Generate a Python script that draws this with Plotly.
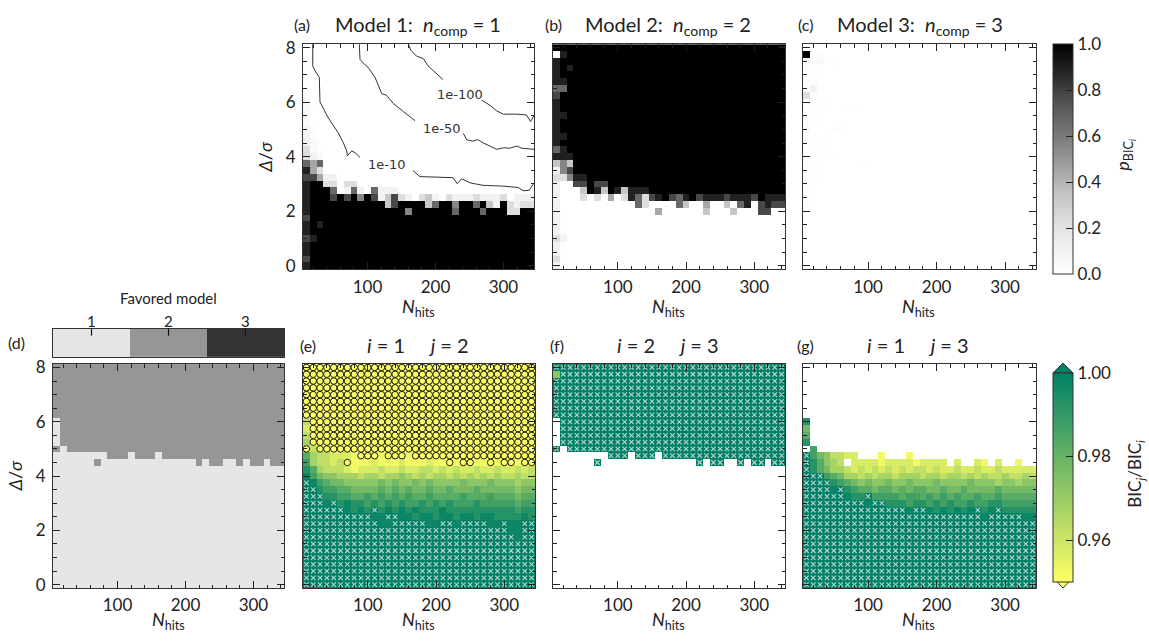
import plotly.graph_objects as go

W, H = 1149, 643

# ---------------------------------------------------------------- grid axes
N_HITS = [10, 20, 30, 40, 50, 60, 70, 80, 90, 100, 110, 120, 130, 140, 150, 160, 170,
          180, 190, 200, 210, 220, 230, 240, 250, 260, 270, 280, 290, 300, 310, 320, 330, 340]
DELTA_SIGMA = [0.0, 0.25, 0.5, 0.75, 1.0, 1.25, 1.5, 1.75, 2.0, 2.25, 2.5, 2.75, 3.0, 3.25,
               3.5, 3.75, 4.0, 4.25, 4.5, 4.75, 5.0, 5.25, 5.5, 5.75, 6.0, 6.25, 6.5, 6.75,
               7.0, 7.25, 7.5, 7.75, 8.0]
MODELS = [1, 2, 3]

# Rows run from Delta/sigma = 8 (top) down to 0; one character per N_hits column.
# p_BIC grids: '0'-'9' -> d/9, 'a'/'b'/'c' -> faint 0.02/0.05/0.08
P_MODEL1 = [
    "0000000000" "0000000000" "0000000000" "0000",
    "0000000000" "0000000000" "0000000000" "0000",
    "a000000000" "0000000000" "0000000000" "0000",
    "0000000000" "0000000000" "0000000000" "0000",
    "a000000000" "0000000000" "0000000000" "0000",
    "0000000000" "0000000000" "0000000000" "0000",
    "0000000000" "0000000000" "0000000000" "0000",
    "a000000000" "0000000000" "0000000000" "0000",
    "b000000000" "0000000000" "0000000000" "0000",
    "ba00000000" "0000000000" "0000000000" "0000",
    "b000000000" "0000000000" "0000000000" "0000",
    "a000000000" "0000000000" "0000000000" "0000",
    "ca00000000" "0000000000" "0000000000" "0000",
    "1a00000000" "0000000000" "0000000000" "0000",
    "1b00000000" "0000000000" "0000000000" "0000",
    "2ba0000000" "0000000000" "0000000000" "0000",
    "21b0000000" "0000000000" "0000000000" "0000",
    "6460000000" "0000000000" "0000000000" "0000",
    "8420000000" "0000000000" "0000000000" "0000",
    "7741100000" "0000000000" "0000000000" "0000",
    "8992202200" "0000000000" "0000000000" "0000",
    "8999601610" "6111000000" "0000000000" "0000",
    "8999797959" "7137210231" "0211121112" "0111",
    "8999999999" "9937999936" "9959969319" "2122",
    "8999999999" "9999959999" "9969996999" "2299",
    "7999999999" "9999999999" "9999999999" "9999",
    "8989999999" "9999999999" "9999999999" "9999",
    "8999999999" "9999999999" "9999999999" "9999",
    "7899999999" "9999999999" "9999999999" "9999",
    "8999999999" "9999999999" "9999999999" "9999",
    "8999999999" "9999999999" "9999999999" "9999",
    "7999999999" "9999999999" "9999999999" "9999",
    "8999999999" "9999999999" "9999999999" "9999",
]

P_MODEL2 = [
    "9999999999" "9999999999" "9999999999" "9999",
    "0899999999" "9999999999" "9999999999" "9999",
    "8999999999" "9999999999" "9999999999" "9999",
    "8989999999" "9999999999" "9999999999" "9999",
    "8999999999" "9999999999" "9999999999" "9999",
    "8899999999" "9999999999" "9999999999" "9999",
    "6699999999" "9999999999" "9999999999" "9999",
    "7999999999" "9999999999" "9999999999" "9999",
    "8999999999" "9999999999" "9999999999" "9999",
    "8999999999" "9999999999" "9999999999" "9999",
    "8899999999" "9999999999" "9999999999" "9999",
    "8999999999" "9999999999" "9999999999" "9999",
    "8999999999" "9999999999" "9999999999" "9999",
    "8899999999" "9999999999" "9999999999" "9999",
    "8999999999" "9999999999" "9999999999" "9999",
    "6899999999" "9999999999" "9999999999" "9999",
    "8889999999" "9999999999" "9999999999" "9999",
    "3539999999" "9999999999" "9999999999" "9999",
    "1579999999" "9999999999" "9999999999" "9999",
    "2258899999" "9999999999" "9999999999" "9999",
    "1007797799" "9999999999" "9999999999" "9999",
    "1000398398" "3888999999" "9999999999" "9999",
    "1000202040" "2862789768" "9788878887" "9888",
    "1000000000" "0062000063" "0040030680" "7877",
    "1000000000" "0000040000" "0030003000" "7700",
    "1a00000000" "0000000000" "0000000000" "0000",
    "1000000000" "0000000000" "0000000000" "0000",
    "1a00000000" "0000000000" "0000000000" "0000",
    "2100000000" "0000000000" "0000000000" "0000",
    "1a00000000" "0000000000" "0000000000" "0000",
    "1000000000" "0000000000" "0000000000" "0000",
    "2a00000000" "0000000000" "0000000000" "0000",
    "1a00000000" "0000000000" "0000000000" "0000",
]

P_MODEL3 = [
    "0000000000" "0000000000" "0000000000" "0000",
    "9aa0000000" "0000000000" "0000000000" "0000",
    "aab0a00000" "0000000000" "0000000000" "0000",
    "a0a0000000" "0000000000" "0000000000" "0000",
    "0aa0000000" "0000000000" "0000000000" "0000",
    "aa00000000" "0000000000" "0000000000" "0000",
    "a1a0000000" "0000000000" "0000000000" "0000",
    "2a00000000" "0000000000" "0000000000" "0000",
    "aa0a000000" "0000000000" "0000000000" "0000",
    "0aa000aa00" "0000000000" "0000000000" "0000",
    "a0a0000000" "0000000000" "0000000000" "0000",
    "aaa0000000" "0000000000" "0000000000" "0000",
    "b000aa0000" "0000000000" "0000000000" "0000",
    "aa0a000000" "0000000000" "0000000000" "0000",
    "aaa0000000" "0000000000" "0000000000" "0000",
    "0aaa000000" "0000000000" "0000000000" "0000",
    "aa00a00000" "0000000000" "0000000000" "0000",
    "a0a00000aa" "0000000000" "0000000000" "0000",
    "aa00000000" "0000000000" "0000000000" "0000",
    "0a00000000" "0000000000" "0000000000" "0000",
    "a000000000" "0000000000" "0000000000" "0000",
    "a000000000" "0000000000" "0000000000" "0000",
    "a000000000" "0000000000" "0000000000" "0000",
    "a000000000" "0000000000" "0000000000" "0000",
    "0000000000" "0000000000" "0000000000" "0000",
    "0000000000" "0000000000" "0000000000" "0000",
    "0000000000" "0000000000" "0000000000" "0000",
    "0000000000" "0000000000" "0000000000" "0000",
    "0000000000" "0000000000" "0000000000" "0000",
    "0000000000" "0000000000" "0000000000" "0000",
    "0000000000" "0000000000" "0000000000" "0000",
    "0000000000" "0000000000" "0000000000" "0000",
    "0000000000" "0000000000" "0000000000" "0000",
]

# favored model per cell
FAVORED = [
    "2222222222" "2222222222" "2222222222" "2222",
    "2222222222" "2222222222" "2222222222" "2222",
    "2222222222" "2222222222" "2222222222" "2222",
    "2222222222" "2222222222" "2222222222" "2222",
    "2222222222" "2222222222" "2222222222" "2222",
    "2222222222" "2222222222" "2222222222" "2222",
    "2222222222" "2222222222" "2222222222" "2222",
    "2222222222" "2222222222" "2222222222" "2222",
    "1222222222" "2222222222" "2222222222" "2222",
    "1222222222" "2222222222" "2222222222" "2222",
    "1222222222" "2222222222" "2222222222" "2222",
    "1222222222" "2222222222" "2222222222" "2222",
    "2122222222" "2222222222" "2222222222" "2222",
    "1111111122" "2122212222" "2222222222" "2222",
    "1111112111" "1111111111" "1212211212" "2122",
    "1111111111" "1111111111" "1111111111" "1111",
    "1111111111" "1111111111" "1111111111" "1111",
    "1111111111" "1111111111" "1111111111" "1111",
    "1111111111" "1111111111" "1111111111" "1111",
    "1111111111" "1111111111" "1111111111" "1111",
    "1111111111" "1111111111" "1111111111" "1111",
    "1111111111" "1111111111" "1111111111" "1111",
    "1111111111" "1111111111" "1111111111" "1111",
    "1111111111" "1111111111" "1111111111" "1111",
    "1111111111" "1111111111" "1111111111" "1111",
    "1111111111" "1111111111" "1111111111" "1111",
    "1111111111" "1111111111" "1111111111" "1111",
    "1111111111" "1111111111" "1111111111" "1111",
    "1111111111" "1111111111" "1111111111" "1111",
    "1111111111" "1111111111" "1111111111" "1111",
    "1111111111" "1111111111" "1111111111" "1111",
    "1111111111" "1111111111" "1111111111" "1111",
    "1111111111" "1111111111" "1111111111" "1111",
]

# BIC_j / BIC_i grids: 'u' below 0.95, 'o' above 1.00, '.' not shown,
# digits d -> 0.9525 + 0.005 d
RATIO_21 = [
    "uuuuuuuuuu" "uuuuuuuuuu" "uuuuuuuuuu" "uuuu",
    "uuuuuuuuuu" "uuuuuuuuuu" "uuuuuuuuuu" "uuuu",
    "uuuuuuuuuu" "uuuuuuuuuu" "uuuuuuuuuu" "uuuu",
    "uuuuuuuuuu" "uuuuuuuuuu" "uuuuuuuuuu" "uuuu",
    "uuuuuuuuuu" "uuuuuuuuuu" "uuuuuuuuuu" "uuuu",
    "uuuuuuuuuu" "uuuuuuuuuu" "uuuuuuuuuu" "uuuu",
    "uuuuuuuuuu" "uuuuuuuuuu" "uuuuuuuuuu" "uuuu",
    "uuuuuuuuuu" "uuuuuuuuuu" "uuuuuuuuuu" "uuuu",
    "2uuuuuuuuu" "uuuuuuuuuu" "uuuuuuuuuu" "uuuu",
    "1uuuuuuuuu" "uuuuuuuuuu" "uuuuuuuuuu" "uuuu",
    "2uuuuuuuuu" "uuuuuuuuuu" "uuuuuuuuuu" "uuuu",
    "3uuuuuuuuu" "uuuuuuuuuu" "uuuuuuuuuu" "uuuu",
    "u2uuuuuuuu" "uuuuuuuuuu" "uuuuuuuuuu" "uuuu",
    "63221110uu" "u0uuu0uuuu" "uuuuuuuuuu" "uuuu",
    "732212u000" "1000100010" "0u0uu00u0u" "u0uu",
    "8632221011" "1211211221" "2121121121" "1212",
    "9754433323" "3233432323" "3232323232" "2322",
    "o976554444" "4545445454" "4445444544" "4344",
    "oo87766555" "5656565565" "5655565555" "5455",
    "ooo8877667" "6767676676" "6667666766" "6566",
    "ooo9o89887" "8787877878" "7877787777" "7677",
    "oooooo9898" "o898989888" "9888888888" "8788",
    "oooooooooo" "99oo998998" "9989989988" "8898",
    "oooooooooo" "o99ooooo99" "oo9oooo99o" "99oo",
    "oooooooooo" "oooooooooo" "oooooooooo" "99oo",
    "oooooooooo" "oooooooooo" "oooooooooo" "o9oo",
    "oooooooooo" "oooooooooo" "oooooooooo" "oooo",
    "oooooooooo" "oooooooooo" "oooooooooo" "oooo",
    "oooooooooo" "oooooooooo" "oooooooooo" "oooo",
    "oooooooooo" "oooooooooo" "oooooooooo" "oooo",
    "oooooooooo" "oooooooooo" "oooooooooo" "oooo",
    "oooooooooo" "oooooooooo" "oooooooooo" "oooo",
    "oooooooooo" "oooooooooo" "oooooooooo" "oooo",
]

RATIO_32 = [
    "oooooooooo" "oooooooooo" "oooooooooo" "oooo",
    "4ooooooooo" "oooooooooo" "oooooooooo" "oooo",
    "oooooooooo" "oooooooooo" "oooooooooo" "oooo",
    "oooooooooo" "oooooooooo" "oooooooooo" "oooo",
    "oooooooooo" "oooooooooo" "oooooooooo" "oooo",
    "oooooooooo" "oooooooooo" "oooooooooo" "oooo",
    "oooooooooo" "oooooooooo" "oooooooooo" "oooo",
    "oooooooooo" "oooooooooo" "oooooooooo" "oooo",
    ".ooooooooo" "oooooooooo" "oooooooooo" "oooo",
    ".ooooooooo" "oooooooooo" "oooooooooo" "oooo",
    ".ooooooooo" "oooooooooo" "oooooooooo" "oooo",
    ".ooooooooo" "oooooooooo" "oooooooooo" "oooo",
    "o.oooooooo" "oooooooooo" "oooooooooo" "oooo",
    "........oo" "o.ooo.oooo" "oooooooooo" "oooo",
    "......o..." ".........." ".o.oo..o.o" "o.oo",
    ".........." ".........." ".........." "....",
    ".........." ".........." ".........." "....",
    ".........." ".........." ".........." "....",
    ".........." ".........." ".........." "....",
    ".........." ".........." ".........." "....",
    ".........." ".........." ".........." "....",
    ".........." ".........." ".........." "....",
    ".........." ".........." ".........." "....",
    ".........." ".........." ".........." "....",
    ".........." ".........." ".........." "....",
    ".........." ".........." ".........." "....",
    ".........." ".........." ".........." "....",
    ".........." ".........." ".........." "....",
    ".........." ".........." ".........." "....",
    ".........." ".........." ".........." "....",
    ".........." ".........." ".........." "....",
    ".........." ".........." ".........." "....",
    ".........." ".........." ".........." "....",
]

RATIO_31 = [
    ".........." ".........." ".........." "....",
    ".........." ".........." ".........." "....",
    ".........." ".........." ".........." "....",
    ".........." ".........." ".........." "....",
    ".........." ".........." ".........." "....",
    ".........." ".........." ".........." "....",
    ".........." ".........." ".........." "....",
    ".........." ".........." ".........." "....",
    "8........." ".........." ".........." "....",
    "5........." ".........." ".........." "....",
    "6........." ".........." ".........." "....",
    "8........." ".........." ".........." "....",
    ".7........" ".........." ".........." "....",
    "o7542211.." ".0...0...." ".........." "....",
    "o86432.111" "1011110111" "1.1..10.1." ".0..",
    "o865332121" "2121212212" "1121121121" "1111",
    "ooo7653323" "2332333233" "2332323223" "2232",
    "oooo876545" "4454454445" "4444544434" "4344",
    "oooo9o8766" "5665656655" "6556555565" "5555",
    "oooooo988o" "7777677676" "7676676676" "6666",
    "ooooooooo9" "oo88878878" "7877877887" "7777",
    "oooooooooo" "ooooo9oo98" "98989o89o8" "8888",
    "oooooooooo" "oooooooooo" "oooooo9ooo" "oo99",
    "oooooooooo" "oooooooooo" "oooooooooo" "oooo",
    "oooooooooo" "oooooooooo" "oooooooooo" "oooo",
    "oooooooooo" "oooooooooo" "oooooooooo" "oooo",
    "oooooooooo" "oooooooooo" "oooooooooo" "oooo",
    "oooooooooo" "oooooooooo" "oooooooooo" "oooo",
    "oooooooooo" "oooooooooo" "oooooooooo" "oooo",
    "oooooooooo" "oooooooooo" "oooooooooo" "oooo",
    "oooooooooo" "oooooooooo" "oooooooooo" "oooo",
    "oooooooooo" "oooooooooo" "oooooooooo" "oooo",
    "oooooooooo" "oooooooooo" "oooooooooo" "oooo",
]

# iso-probability contours of p_BIC for model 1 (None = gap under the label)
CONTOUR_10_N = [19.3, 19.3, 22.7, 29, 30, 39.8, 47.2, 57, 64.4, 69.3, 70.2, 76.7, 81.5, 88.9,
                None, 167, 177, 202, 226, 232, 238.6, 251, 270, 300, 322, 329, 338, 345]
CONTOUR_10_D = [8.125, 7.33, 7.15, 6.91, 6.01, 5.53, 5.23, 4.87, 4.51, 4.21, 4.03, 4.21, 4.15, 3.97,
                None, 3.49, 3.27, 3.25, 3.23, 3.01, 3.19, 3.04, 2.95, 2.92, 2.87, 2.75, 2.77, 3.04]
CONTOUR_50_N = [87.9, 88.9, 93.8, 101, 111, 116, 121, 128, 138, 153, 170,
                None, 241, 246, 255, 262, 270, 281, 290, 301, 309, 320, 327, 345]
CONTOUR_50_D = [8.125, 7.57, 7.43, 7.27, 6.91, 6.61, 6.31, 6.25, 5.95, 5.65, 5.32,
                None, 4.85, 4.62, 4.57, 4.63, 4.51, 4.39, 4.27, 4.33, 4.31, 4.39, 4.31, 4.27]
CONTOUR_100_N = [160, 163.5, 172, 182, 189, 199, 211,
                 None, 268, 280, 290, 300, 320, 334, 340, 345]
CONTOUR_100_D = [8.125, 7.91, 7.69, 7.6, 7.33, 7.09, 6.83,
                 None, 6.07, 5.89, 5.68, 5.56, 5.56, 5.53, 5.29, 5.51]
CONTOUR_LABELS = ["1e-100", "1e-50", "1e-10"]
CONTOUR_LABEL_N = [236, 209, 128]
CONTOUR_LABEL_D = [6.28, 5.03, 3.73]

# ---------------------------------------------------------------- decoding
for grid in (P_MODEL1, P_MODEL2, P_MODEL3, FAVORED, RATIO_21, RATIO_32, RATIO_31):
    assert len(grid) == len(DELTA_SIGMA)
    for row in grid:
        assert len(row) == len(N_HITS), row

P_LEVEL = {str(d): d / 9 for d in range(10)}
P_LEVEL.update({"a": 0.02, "b": 0.05, "c": 0.08})


def prob_grid(rows):
    return [[P_LEVEL[ch] for ch in row] for row in reversed(rows)]


def ratio_value(ch):
    if ch == ".":
        return None
    if ch == "u":
        return 0.94
    if ch == "o":
        return 1.01
    return 0.9525 + 0.005 * int(ch)


def ratio_grid(rows):
    return [[ratio_value(ch) for ch in row] for row in reversed(rows)]


def favored_grid(rows):
    return [[int(ch) for ch in row] for row in reversed(rows)]


RMIN, RMAX = 0.95, 1.00


def cells_where(grid, test):
    xs, ys = [], []
    for r, row in enumerate(grid):
        for c, v in enumerate(row):
            if v is not None and test(v):
                xs.append(N_HITS[c])
                ys.append(DELTA_SIGMA[r])
    return xs, ys


# ---------------------------------------------------------------- styling
FONT = "Lato, DejaVu Sans, sans-serif"
INK = "#222222"
FRAME = "#333333"

GREYS = [[0.0, "#ffffff"], [0.125, "#f0f0f0"], [0.25, "#d9d9d9"], [0.375, "#bdbdbd"],
         [0.5, "#969696"], [0.625, "#737373"], [0.75, "#525252"], [0.875, "#252525"],
         [1.0, "#000000"]]
SUMMER_R = [[0.0, "#ffff66"], [1.0, "#008066"]]
FAV_SCALE = [[0.0, "#e6e6e6"], [0.3333, "#e6e6e6"], [0.3333, "#969696"], [0.6667, "#969696"],
             [0.6667, "#333333"], [1.0, "#333333"]]

# panel boxes in pixels: (x0, x1, top, bottom)
PANELS = [
    (303, 534, 37, 267),   # a
    (553, 785, 37, 267),   # b
    (803, 1036, 37, 267),  # c
    (53, 284, 364, 593),   # d
    (303, 535, 364, 593),  # e
    (553, 785, 364, 593),  # f
    (803, 1036, 364, 593), # g
]
KEY_BOX = (53, 284, 328, 357)
CB_X0, CB_X1 = 1053, 1073
CB1_TOP, CB1_BOT = 37, 267
CB2_TOP, CB2_BOT = 373, 582
CB2_TIP_TOP, CB2_TIP_BOT = 363, 593


def fx(px):
    return px / W


def fy(py):
    return 1 - py / H


def dom_x(x0, x1):
    return [fx(x0), fx(x1)]


def dom_y(top, bottom):
    return [fy(bottom), fy(top)]


TICK_FONT = dict(family=FONT, size=17, color=INK)
axis_common = dict(showgrid=False, zeroline=False, showline=True, linecolor=FRAME,
                   linewidth=1, mirror="allticks", ticks="inside", ticklen=7, tickwidth=1,
                   tickcolor=INK, tickfont=TICK_FONT)

layout = {}
for i, (x0, x1, top, bottom) in enumerate(PANELS, start=1):
    sfx = "" if i == 1 else str(i)
    layout["xaxis" + sfx] = dict(
        axis_common, domain=dom_x(x0, x1), range=[5, 345], anchor="y" + sfx,
        tickmode="linear", tick0=0, dtick=100, ticklabelstandoff=2,
        minor=dict(tick0=0, dtick=20, ticks="inside", ticklen=3.5, tickcolor=INK))
    layout["yaxis" + sfx] = dict(
        axis_common, domain=dom_y(top, bottom), range=[-0.125, 8.125], anchor="x" + sfx,
        tickmode="linear", tick0=0, dtick=2, showticklabels=(i in (1, 4)),
        ticklabelstandoff=3,
        minor=dict(tick0=0, dtick=0.5, ticks="inside", ticklen=3.5, tickcolor=INK))

kx0, kx1, ktop, kbot = KEY_BOX
layout["xaxis8"] = dict(domain=dom_x(kx0, kx1), range=[0.5, 3.5], anchor="y8",
                        showgrid=False, zeroline=False, showline=True, mirror=True,
                        linecolor=FRAME, linewidth=1, ticks="", showticklabels=False)
layout["yaxis8"] = dict(domain=dom_y(ktop, kbot), range=[-0.5, 0.5], anchor="x8",
                        showgrid=False, zeroline=False, showline=True, mirror=True,
                        linecolor=FRAME, linewidth=1, showticklabels=False, ticks="")

fig = go.Figure()

# top row: model probabilities
for i, rows in enumerate((P_MODEL1, P_MODEL2, P_MODEL3), start=1):
    sfx = "" if i == 1 else str(i)
    fig.add_trace(go.Heatmap(x=N_HITS, y=DELTA_SIGMA, z=prob_grid(rows),
                             coloraxis="coloraxis", xaxis="x" + sfx, yaxis="y" + sfx,
                             hoverinfo="skip"))

for xs, ys in ((CONTOUR_10_N, CONTOUR_10_D), (CONTOUR_50_N, CONTOUR_50_D),
               (CONTOUR_100_N, CONTOUR_100_D)):
    fig.add_trace(go.Scatter(x=xs, y=ys, mode="lines", xaxis="x", yaxis="y",
                             line=dict(color="#333333", width=1), connectgaps=False,
                             hoverinfo="skip", showlegend=False))

# favored model map and its key
fig.add_trace(go.Heatmap(x=N_HITS, y=DELTA_SIGMA, z=favored_grid(FAVORED),
                         colorscale=FAV_SCALE, zmin=1, zmax=3, showscale=False,
                         xaxis="x4", yaxis="y4", hoverinfo="skip"))
fig.add_trace(go.Heatmap(x=MODELS, y=[0], z=[MODELS], colorscale=FAV_SCALE, zmin=1, zmax=3,
                         showscale=False, xaxis="x8", yaxis="y8", hoverinfo="skip"))

# bottom row: BIC ratios
X_MARK = "rgba(215,230,224,0.85)"
for i, rows in zip((5, 6, 7), (RATIO_21, RATIO_32, RATIO_31)):
    grid = ratio_grid(rows)
    fig.add_trace(go.Heatmap(x=N_HITS, y=DELTA_SIGMA, z=grid, coloraxis="coloraxis2",
                             xaxis=f"x{i}", yaxis=f"y{i}", hoverinfo="skip"))
    ux, uy = cells_where(grid, lambda v: v < RMIN)
    if ux:
        fig.add_trace(go.Scatter(x=ux, y=uy, mode="markers", xaxis=f"x{i}", yaxis=f"y{i}",
                                 marker=dict(symbol="circle-open", size=6.5, color="#1a1a1a",
                                             line=dict(width=1, color="#1a1a1a")),
                                 hoverinfo="skip", showlegend=False))
    ox, oy = cells_where(grid, lambda v: v > RMAX)
    if ox:
        fig.add_trace(go.Scatter(x=ox, y=oy, mode="markers", xaxis=f"x{i}", yaxis=f"y{i}",
                                 marker=dict(symbol="x-thin-open", size=4.5, color=X_MARK,
                                             line=dict(width=1.1, color=X_MARK)),
                                 hoverinfo="skip", showlegend=False))

cb_font = dict(family=FONT, size=17, color=INK)
layout["coloraxis"] = dict(
    colorscale=GREYS, cmin=0, cmax=1,
    colorbar=dict(x=fx(CB_X0), xanchor="left", y=fy(CB1_TOP), yanchor="top",
                  len=CB1_BOT - CB1_TOP, lenmode="pixels", thickness=CB_X1 - CB_X0,
                  thicknessmode="pixels", xpad=0, ypad=0, outlinewidth=1,
                  outlinecolor=FRAME, ticks="inside", ticklen=7, tickcolor=INK,
                  tickvals=[0, 0.2, 0.4, 0.6, 0.8, 1.0],
                  ticktext=["0.0", "0.2", "0.4", "0.6", "0.8", "1.0"], tickfont=cb_font))
layout["coloraxis2"] = dict(
    colorscale=SUMMER_R, cmin=RMIN, cmax=RMAX,
    colorbar=dict(x=fx(CB_X0), xanchor="left", y=fy(CB2_TOP), yanchor="top",
                  len=CB2_BOT - CB2_TOP, lenmode="pixels", thickness=CB_X1 - CB_X0,
                  thicknessmode="pixels", xpad=0, ypad=0, outlinewidth=1,
                  outlinecolor=FRAME, ticks="inside", ticklen=7, tickcolor=INK,
                  tickvals=[0.96, 0.98, 1.00], ticktext=["0.96", "0.98", "1.00"],
                  tickfont=cb_font))

# ---------------------------------------------------------------- shapes
shapes = []
cx = (CB_X0 + CB_X1) / 2
# extension triangles of the ratio colorbar
shapes.append(dict(type="path", xref="paper", yref="paper",
                   path=f"M {fx(CB_X0)},{fy(CB2_TOP)} L {fx(cx)},{fy(CB2_TIP_TOP)} L {fx(CB_X1)},{fy(CB2_TOP)} Z",
                   fillcolor="#008066", line=dict(color=FRAME, width=1)))
shapes.append(dict(type="path", xref="paper", yref="paper",
                   path=f"M {fx(CB_X0)},{fy(CB2_BOT)} L {fx(cx)},{fy(CB2_TIP_BOT)} L {fx(CB_X1)},{fy(CB2_BOT)} Z",
                   fillcolor="#ffff66", line=dict(color=FRAME, width=1)))
# minor ticks on both colorbars
for k in range(1, 20):
    if k % 4 == 0:
        continue
    yy = CB1_BOT - (CB1_BOT - CB1_TOP) * k / 20
    shapes.append(dict(type="line", xref="paper", yref="paper", x0=fx(CB_X1 - 3.5), x1=fx(CB_X1),
                       y0=fy(yy), y1=fy(yy), line=dict(color=INK, width=1)))
for k in range(1, 10):
    if k in (2, 6):
        continue
    yy = CB2_BOT - (CB2_BOT - CB2_TOP) * k / 10
    shapes.append(dict(type="line", xref="paper", yref="paper", x0=fx(CB_X1 - 3.5), x1=fx(CB_X1),
                       y0=fy(yy), y1=fy(yy), line=dict(color=INK, width=1)))
# ticks of the favored-model key, hanging from its top edge
for m in MODELS:
    shapes.append(dict(type="line", xref="x8", yref="paper", x0=m, x1=m,
                       y0=fy(ktop), y1=fy(ktop + 7), line=dict(color="#111111", width=1.2)))

# ---------------------------------------------------------------- text
annotations = []


def note(text, x, y, size=15, angle=0, family=FONT, color=INK, xref="paper"):
    annotations.append(dict(text=text, x=fx(x) if xref == "paper" else x, y=fy(y),
                            xref=xref, yref="paper", showarrow=False, textangle=angle,
                            xanchor="center", yanchor="middle",
                            font=dict(family=family, size=size, color=color)))


SP = "&nbsp;"
NCOMP = "<i>n</i><sub>comp</sub>"
note("(a)", 302, 17, size=16)
note("(b)", 553, 17, size=16)
note("(c)", 805, 17, size=16)
note(f"Model 1:{SP}{SP}{NCOMP}{SP}={SP}1", 418, 18, size=20)
note(f"Model 2:{SP}{SP}{NCOMP}{SP}={SP}2", 668, 18, size=20)
note(f"Model 3:{SP}{SP}{NCOMP}{SP}={SP}3", 920, 18, size=20)

note("(d)", 16, 342, size=16)
note("(e)", 308, 345, size=16)
note("(f)", 557, 345, size=16)
note("(g)", 805, 345, size=16)
for xc, (a, b) in zip((418, 668, 918), ((1, 2), (2, 3), (1, 3))):
    note(f"<i>i</i>{SP}={SP}{a}{SP}{SP}{SP}{SP}{SP}<i>j</i>{SP}={SP}{b}", xc, 345, size=20)

NHITS_LABEL = "<i>N</i><sub>hits</sub>"
for xc in (418, 668, 918):
    note(NHITS_LABEL, xc, 306, size=18)
for xc in (168, 418, 668, 918):
    note(NHITS_LABEL, xc, 626, size=18)
note("<i>Δ</i>/<i>σ</i>", 265, 152, size=18, angle=-90)
note("<i>Δ</i>/<i>σ</i>", 15, 478, size=18, angle=-90)

note("Favored model", 168, 296, size=15)
for m in MODELS:
    annotations.append(dict(text=str(m), x=m, y=fy(320), xref="x8", yref="paper",
                            showarrow=False, xanchor="center", yanchor="middle",
                            font=dict(family=FONT, size=15, color=INK)))
note("<i>p</i><sub>BIC<sub><i>i</i></sub></sub>", 1124, 150, size=18, angle=-90)
note("BIC<sub><i>j</i></sub>/BIC<sub><i>i</i></sub>", 1136, 476, size=17, angle=-90)

for txt, n, d in zip(CONTOUR_LABELS, CONTOUR_LABEL_N, CONTOUR_LABEL_D):
    annotations.append(dict(text=txt, x=n, y=d, xref="x", yref="y", showarrow=False,
                            font=dict(family="DejaVu Sans", size=13, color="#333333")))

fig.update_layout(
    width=W, height=H, margin=dict(l=0, r=0, t=0, b=0),
    paper_bgcolor="white", plot_bgcolor="white", showlegend=False,
    font=dict(family=FONT, color=INK),
    shapes=shapes, annotations=annotations, **layout)

fig.write_html("out.html")
